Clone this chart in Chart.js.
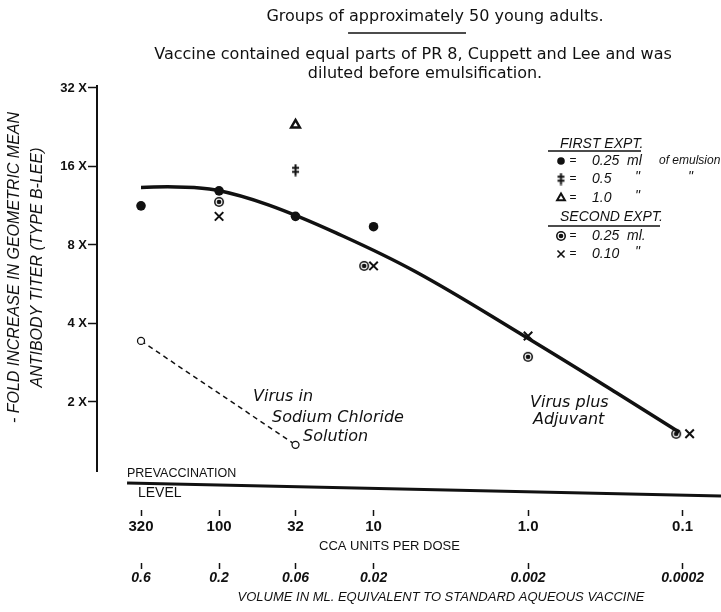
<!DOCTYPE html>
<html>
<head>
<meta charset="utf-8">
<script src="https://cdn.jsdelivr.net/npm/chart.js"></script>
<style>
  html, body { margin: 0; padding: 0; background: #fff; }
  #wrap { width: 721px; height: 612px; }
</style>
</head>
<body>
<div id="wrap"><canvas id="c" width="721" height="612"></canvas></div>
<script>
// ---------------- data ----------------
const ccaTickDoses = [320, 100, 32, 10, 1, 0.1];
const ccaTickLabels = ['320', '100', '32', '10', '1.0', '0.1'];
const volumeTickLabels = ['0.6', '0.2', '0.06', '0.02', '0.002', '0.0002'];
const foldTicks = [2, 4, 8, 16, 32];

const first025Doses = [320, 100, 32, 10];
const first025Fold = [11.3, 12.9, 10.3, 9.4];
const first05Doses = [32];
const first05Fold = [15.5];
const first10Doses = [32];
const first10Fold = [23.1];
const second025Doses = [100, 11.5, 1, 0.11];
const second025Fold = [11.7, 6.65, 2.98, 1.51];
const second010Doses = [100, 10, 1, 0.09];
const second010Fold = [10.3, 6.65, 3.58, 1.51];
const salineDoses = [320, 32];
const salineFold = [3.43, 1.37];
const adjuvantCurveDoses = [320, 190, 105, 48, 17.5, 5.3, 1.06, 0.268, 0.105];
const adjuvantCurveFold = [13.3, 13.35, 13.0, 11.4, 8.9, 6.3, 3.58, 2.17, 1.53];
const prevaccDoses = [394, 0.0564];
const prevaccFold = [0.978, 0.872];

// ---------------- styling / helpers ----------------
const ink = '#111';
const nb = '\u00A0';
const pts = (xs, ys) => xs.map((x, i) => ({ x: x, y: ys[i] }));

function glyphCanvas(w, h, draw) {
  const c = document.createElement('canvas');
  c.width = w; c.height = h;
  draw(c.getContext('2d'), w, h);
  return c;
}
const daggerMark = glyphCanvas(9, 13, (g, w, h) => {
  g.strokeStyle = ink; g.lineWidth = 2;
  g.beginPath();
  g.moveTo(w / 2, 0.5); g.lineTo(w / 2, h - 0.5);
  g.moveTo(1, h * 0.32); g.lineTo(w - 1, h * 0.32);
  g.moveTo(1, h * 0.64); g.lineTo(w - 1, h * 0.64);
  g.stroke();
});
const circledDotMark = glyphCanvas(12, 12, (g, w, h) => {
  g.fillStyle = ink;
  g.beginPath(); g.arc(w / 2, h / 2, 5, 0, 2 * Math.PI); g.fill();
  g.strokeStyle = '#fff'; g.lineWidth = 1.1;
  g.beginPath(); g.arc(w / 2, h / 2, 2.9, 0, 2 * Math.PI); g.stroke();
});

const yAxisLineSpan = [1.078, 32.86];

const annotate = {
  id: 'annotate',
  beforeDraw(chart) {
    const c = chart.ctx;
    c.save(); c.fillStyle = '#fff'; c.fillRect(0, 0, chart.width, chart.height); c.restore();
  },
  afterDraw(chart) {
    const ctx = chart.ctx;
    const xs = chart.scales.x, ys = chart.scales.y;
    ctx.save();
    // y axis line
    ctx.strokeStyle = ink; ctx.lineWidth = 2;
    ctx.beginPath();
    ctx.moveTo(xs.left, ys.getPixelForValue(yAxisLineSpan[1]));
    ctx.lineTo(xs.left, ys.getPixelForValue(yAxisLineSpan[0]));
    ctx.stroke();

    ctx.fillStyle = ink; ctx.textBaseline = 'middle';
    const text = (s, x, y, font, align) => { ctx.font = font; ctx.textAlign = align || 'left'; ctx.fillText(s, x, y); };

    // heading
    const tf = '16px "DejaVu Sans"';
    const l1 = 'Groups of approximately 50 young adults.';
    text(l1, 435, 17, tf, 'center');
    ctx.font = tf;
    const w1 = ctx.measureText(l1).width;
    const pre = ctx.measureText('Groups of ').width;
    const ww = ctx.measureText('approximately').width;
    const sx = 435 - w1 / 2 + pre;
    ctx.lineWidth = 1.3;
    ctx.beginPath(); ctx.moveTo(sx - 1, 33); ctx.lineTo(sx + ww + 2, 33); ctx.stroke();
    text('Vaccine contained equal parts of PR 8, Cuppett and Lee and was', 413, 55, tf, 'center');
    text('diluted before emulsification.', 425, 74, tf, 'center');

    // legend
    const lf = 'italic 14px "Liberation Sans"';
    const ef = '12px "Liberation Sans"';
    const mark = (style, x, y, r, bw, fill) => {
      ctx.fillStyle = fill; ctx.strokeStyle = ink; ctx.lineWidth = bw;
      if (Chart.helpers && Chart.helpers.drawPoint) {
        Chart.helpers.drawPoint(ctx, { pointStyle: style, radius: r, borderWidth: bw, rotation: 0 }, x, y);
      }
      ctx.fillStyle = ink;
    };
    text('FIRST EXPT.', 560, 144, lf);
    ctx.lineWidth = 1.5; ctx.strokeStyle = ink;
    ctx.beginPath(); ctx.moveTo(548, 151); ctx.lineTo(641, 151); ctx.stroke();
    mark('circle', 561, 161, 3.8, 0, ink);
    text('=', 573, 161, ef, 'center');
    text('0.25  ml', 592, 161, lf);
    text('of emulsion', 659, 161, 'italic 12px "Liberation Sans"');
    mark(daggerMark, 561, 179, 6, 0, ink);
    text('=', 573, 179, ef, 'center');
    text('0.5', 592, 179, lf);
    text('"', 635, 177, lf); text('"', 688, 177, lf);
    mark('triangle', 561, 198, 4.5, 2, '#fff');
    text('=', 573, 198, ef, 'center');
    text('1.0', 592, 198, lf);
    text('"', 635, 196, lf);
    text('SECOND EXPT.', 560, 217, lf);
    ctx.lineWidth = 1.5;
    ctx.beginPath(); ctx.moveTo(548, 226); ctx.lineTo(660, 226); ctx.stroke();
    mark(circledDotMark, 561, 236, 6, 0, ink);
    text('=', 573, 236, ef, 'center');
    text('0.25  ml.', 592, 236, lf);
    mark('crossRot', 561, 254, 5, 1.6, ink);
    text('=', 573, 254, ef, 'center');
    text('0.10', 592, 254, lf);
    text('"', 635, 252, lf);

    // curve labels
    const vf = 'italic 16px "DejaVu Sans"';
    text('Virus in', 253, 397, vf);
    text('Sodium Chloride', 272, 418, vf);
    text('Solution', 303, 437, vf);
    text('Virus plus', 530, 403, vf);
    text('Adjuvant', 533, 420, vf);

    // baseline label
    text('PREVACCINATION', 127, 474, '12.5px "Liberation Sans"');
    text('LEVEL', 138, 493, '14px "Liberation Sans"');

    // volume axis title
    text('VOLUME IN ML. EQUIVALENT TO STANDARD AQUEOUS VACCINE', 441, 597, 'italic 13px "Liberation Sans"', 'center');
    ctx.restore();
  }
};

Chart.defaults.font.family = '"Liberation Sans", Arial, sans-serif';
Chart.defaults.color = ink;

new Chart(document.getElementById('c'), {
  type: 'scatter',
  data: {
    datasets: [
      { label: 'Prevaccination level', data: pts(prevaccDoses, prevaccFold), showLine: true,
        borderColor: ink, borderWidth: 3, pointRadius: 0, clip: false },
      { label: 'Virus plus Adjuvant', data: pts(adjuvantCurveDoses, adjuvantCurveFold), showLine: true,
        borderColor: ink, borderWidth: 3.5, pointRadius: 0, tension: 0.4 },
      { label: 'Virus in Sodium Chloride Solution', data: pts(salineDoses, salineFold), showLine: true,
        borderColor: ink, borderWidth: 1.5, borderDash: [5, 4], pointStyle: 'circle', pointRadius: 3.5,
        pointBackgroundColor: '#fff', pointBorderColor: ink, pointBorderWidth: 1.3 },
      { label: 'First expt. 0.25 ml of emulsion', data: pts(first025Doses, first025Fold),
        pointStyle: 'circle', pointRadius: 4.8, pointBackgroundColor: ink, pointBorderColor: ink, pointBorderWidth: 0 },
      { label: 'First expt. 0.5 ml', data: pts(first05Doses, first05Fold),
        pointStyle: daggerMark, pointRadius: 6 },
      { label: 'First expt. 1.0 ml', data: pts(first10Doses, first10Fold),
        pointStyle: 'triangle', pointRadius: 5, pointBackgroundColor: '#fff', pointBorderColor: ink, pointBorderWidth: 2.5 },
      { label: 'Second expt. 0.25 ml', data: pts(second025Doses, second025Fold),
        pointStyle: circledDotMark, pointRadius: 6 },
      { label: 'Second expt. 0.10 ml', data: pts(second010Doses, second010Fold),
        pointStyle: 'crossRot', pointRadius: 6, pointBorderColor: ink, pointBorderWidth: 2 }
    ]
  },
  options: {
    responsive: false,
    animation: false,
    events: [],
    devicePixelRatio: 1,
    layout: { padding: { top: 25, right: 21, left: 0, bottom: 0 } },
    plugins: { legend: { display: false }, tooltip: { enabled: false }, title: { display: false } },
    scales: {
      x: {
        type: 'logarithmic', reverse: true, min: 0.0771, max: 616.6, bounds: 'data', position: 'bottom', weight: 0,
        border: { display: false },
        grid: { drawOnChartArea: false, drawTicks: true, tickLength: 6, tickColor: ink, tickWidth: 1.5 },
        afterBuildTicks: s => { s.ticks = ccaTickDoses.map(v => ({ value: v })); },
        afterFit: s => { s.height = 53; },
        ticks: { autoSkip: false, maxRotation: 0, minRotation: 0, padding: 2, color: ink,
                 font: { size: 15, weight: 'bold' }, callback: (v, i) => ccaTickLabels[i] },
        title: { display: true, text: 'CCA UNITS PER DOSE' + nb.repeat(5), color: ink,
                 font: { size: 13 }, padding: { top: 0, bottom: 9 } }
      },
      x2: {
        axis: 'x', type: 'logarithmic', reverse: true, min: 0.0771, max: 616.6, bounds: 'data', position: 'bottom', weight: 1,
        border: { display: false },
        grid: { drawOnChartArea: false, drawTicks: true, tickLength: 6, tickColor: ink, tickWidth: 1.5 },
        afterBuildTicks: s => { s.ticks = ccaTickDoses.map(v => ({ value: v })); },
        afterFit: s => { s.height = 49; },
        ticks: { autoSkip: false, maxRotation: 0, minRotation: 0, padding: 1, color: ink,
                 font: { size: 14, weight: 'bold', style: 'italic' }, callback: (v, i) => volumeTickLabels[i] }
      },
      y: {
        type: 'logarithmic', min: 0.7706, max: 55.8, bounds: 'data', position: 'left',
        border: { display: false },
        grid: { drawOnChartArea: false, drawTicks: true, tickLength: 9, tickColor: ink, tickWidth: 1.5 },
        afterBuildTicks: s => { s.ticks = foldTicks.map(v => ({ value: v })); },
        afterFit: s => { s.width = 97; },
        ticks: { padding: 1, color: ink, font: { size: 13, weight: 'bold' }, callback: v => v + ' X' },
        title: { display: true, color: ink,
                 text: ['- FOLD INCREASE IN GEOMETRIC MEAN', 'ANTIBODY TITER (TYPE B-LEE)'],
                 font: { size: 16, style: 'italic', lineHeight: '23px' }, padding: { top: 3.5, bottom: 0 } }
      }
    }
  },
  plugins: [annotate]
});
</script>
</body>
</html>
